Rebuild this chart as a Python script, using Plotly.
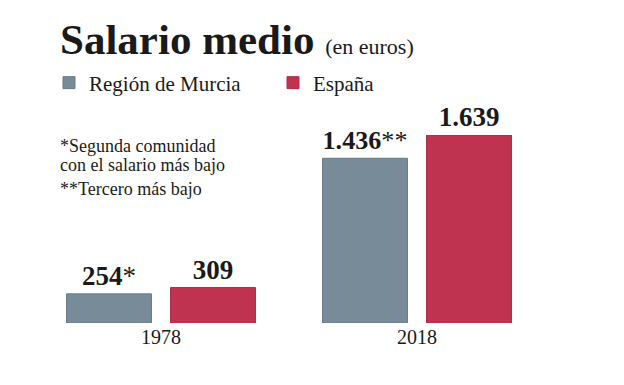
import plotly.graph_objects as go

years = ["1978", "2018"]
murcia = [254, 1436]
espana = [309, 1639]
murcia_marks = ["*", "**"]
espana_marks = ["", ""]
series_names = ["Región de Murcia", "España"]
footnotes = ["*Segunda comunidad", "con el salario más bajo", "**Tercero más bajo"]

GRAY = "#788b98"
RED = "#bf3350"
SERIF = "Liberation Serif"

def fmt(v):
    return f"{v:,}".replace(",", ".")

murcia_text = [f"<b>{fmt(v)}</b>{m}" for v, m in zip(murcia, murcia_marks)]
espana_text = [f"<b>{fmt(v)}</b>{m}" for v, m in zip(espana, espana_marks)]

fig = go.Figure()
fig.add_trace(go.Bar(x=years, y=murcia, name=series_names[0], marker=dict(color=GRAY, line=dict(color="#6a7b87", width=1)),
                     text=murcia_text, textposition="outside", cliponaxis=False,
                     textfont=dict(family=SERIF, size=27, color="#1a1a1a")))
fig.add_trace(go.Bar(x=years, y=espana, name=series_names[1], marker=dict(color=RED, line=dict(color="#b02d48", width=1)),
                     text=espana_text, textposition="outside", cliponaxis=False,
                     textfont=dict(family=SERIF, size=27, color="#1a1a1a")))

W, H = 624, 385
L, R, T, B = 33, 79, 135, 62
pw, ph = W - L - R, H - T - B

def px2paper_x(px):
    return (px - L) / pw

def px2paper_y(py):
    return (H - B - py) / ph

fn_y = [146, 165, 189]
for txt, py in zip(footnotes, fn_y):
    fig.add_annotation(text=txt, xref="paper", yref="paper", x=px2paper_x(58), y=px2paper_y(py),
                       xanchor="left", yanchor="middle", showarrow=False,
                       font=dict(family=SERIF, size=18, color="#1a1a1a"))

fig.update_layout(
    width=W, height=H,
    margin=dict(l=L, r=R, t=T, b=B, autoexpand=False),
    paper_bgcolor="white", plot_bgcolor="white",
    barmode="group", bargap=0.1875, bargroupgap=0.183,
    title=dict(text="<b>Salario medio</b> <span style='font-size:22px'>(en euros)</span>",
               xref="container", yref="container", x=60 / W, xanchor="left",
               y=1 - 39 / H, yanchor="middle",
               font=dict(family=SERIF, size=43, color="#1a1a1a")),
    legend=dict(orientation="h", x=px2paper_x(49), y=px2paper_y(83), xanchor="left", yanchor="middle",
                entrywidth=179, entrywidthmode="pixels",
                font=dict(family=SERIF, size=21, color="#1a1a1a"), bgcolor="rgba(0,0,0,0)"),
    xaxis=dict(showline=False, ticks="", showgrid=False, tickfont=dict(family=SERIF, size=20, color="#1a1a1a")),
    yaxis=dict(visible=False, range=[0, 1639], showgrid=False, zeroline=False),
    showlegend=True,
)

fig.write_html("out.html", config={"displayModeBar": False},
               post_script="document.body.style.margin='0';")
